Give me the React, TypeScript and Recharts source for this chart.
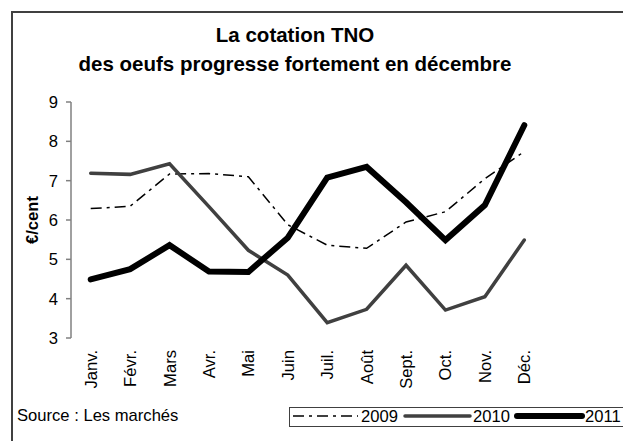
import React from 'react';
import { LineChart, Line, XAxis, YAxis } from 'recharts';

const months = ['Janv.', 'Févr.', 'Mars', 'Avr.', 'Mai', 'Juin', 'Juil.', 'Août', 'Sept.', 'Oct.', 'Nov.', 'Déc.'];
const s2009 = [6.29, 6.35, 7.17, 7.18, 7.1, 5.88, 5.36, 5.28, 5.95, 6.21, 7.05, 7.74];
const s2010 = [7.19, 7.16, 7.43, 6.34, 5.23, 4.6, 3.39, 3.73, 4.85, 3.71, 4.05, 5.49];
const s2011 = [4.49, 4.75, 5.36, 4.69, 4.68, 5.55, 7.08, 7.35, 6.45, 5.49, 6.38, 8.41];
const yTicks = [3, 4, 5, 6, 7, 8, 9];
const boundaryTicks = [0, 1, 2, 3, 4, 5, 6, 7, 8, 9, 10, 11, 12];

const titleLines = ['La cotation TNO', 'des oeufs progresse fortement en décembre'];
const yLabel = '€/cent';
const sourceText = 'Source : Les marchés';

const series = [
  { key: 'y2009', name: '2009', color: '#000000', width: 1.5, dash: '11 5 3 5', cap: 'butt' as const },
  { key: 'y2010', name: '2010', color: '#404040', width: 3.5, dash: undefined, cap: 'round' as const },
  { key: 'y2011', name: '2011', color: '#000000', width: 6, dash: undefined, cap: 'round' as const },
];

const data = months.map((m, i) => ({ month: m, y2009: s2009[i], y2010: s2010[i], y2011: s2011[i] }));

const FONT = '"Liberation Sans", Arial, sans-serif';
const AXIS = '#808080';
const FS = 16.6;

const MonthTick = (props: any) => {
  const { x, y, payload } = props;
  return (
    <g transform={`translate(${x},${y})`}>
      <text transform="rotate(-90)" x={-4} y={0} dy="0.36em" textAnchor="end" fontSize={FS} fontFamily={FONT} fill="#000">
        {payload.value}
      </text>
    </g>
  );
};

export default function App() {
  return (
    <div style={{ position: 'absolute', left: 0, top: 0, width: 623, height: 441, overflow: 'hidden', background: '#fff' }}>
      <div style={{ position: 'absolute', left: 11, top: 11, width: 640, height: 460, border: '2px solid #404040', boxSizing: 'border-box' }} />
      <div style={{ position: 'absolute', left: 0, top: 0 }}>
        <LineChart width={623} height={441} data={data} margin={{ top: 102, right: 79, bottom: 53, left: 40 }}>
          <XAxis
            xAxisId="b"
            type="number"
            domain={[0, 12]}
            ticks={boundaryTicks}
            tick={false}
            height={0}
            axisLine={{ stroke: AXIS, strokeWidth: 1.5 }}
            tickLine={{ stroke: AXIS, strokeWidth: 1.5 }}
            tickSize={6}
            allowDataOverflow
          />
          <XAxis
            xAxisId="cat"
            dataKey="month"
            type="category"
            scale="band"
            interval={0}
            height={50}
            axisLine={false}
            tickLine={false}
            tick={<MonthTick />}
          />
          <YAxis
            domain={[3, 9]}
            ticks={yTicks}
            width={31}
            interval={0}
            axisLine={{ stroke: AXIS, strokeWidth: 1.5 }}
            tickLine={{ stroke: AXIS, strokeWidth: 1.5 }}
            tickSize={5}
            tickMargin={8}
            tick={{ fontSize: FS, fontFamily: FONT, fill: '#000' }}
          />
          {series.map((s) => (
            <Line
              key={s.key}
              xAxisId="cat"
              dataKey={s.key}
              name={s.name}
              stroke={s.color}
              strokeWidth={s.width}
              strokeDasharray={s.dash}
              strokeLinecap={s.cap}
              dot={false}
              activeDot={false}
              isAnimationActive={false}
            />
          ))}
        </LineChart>
      </div>
      <svg width={623} height={441} style={{ position: 'absolute', left: 0, top: 0, pointerEvents: 'none' }}>
        <text x={295} y={42} textAnchor="middle" fontSize={20.5} fontWeight="bold" fontFamily={FONT} fill="#000">{titleLines[0]}</text>
        <text x={295} y={71} textAnchor="middle" fontSize={20.5} fontWeight="bold" fontFamily={FONT} fill="#000">{titleLines[1]}</text>
        <text transform="translate(38,220) rotate(-90)" textAnchor="middle" fontSize={FS} fontWeight="bold" fontFamily={FONT} fill="#000">{yLabel}</text>
        <text x={17} y={421} fontSize={FS} fontFamily={FONT} fill="#000">{sourceText}</text>
        <rect x={289.5} y={407.5} width={400} height={19} fill="none" stroke="#404040" strokeWidth={1} />
        {series.map((s, i) => {
          const x0 = 293 + i * 112;
          return (
            <g key={s.key}>
              <line x1={x0} x2={x0 + 65} y1={416} y2={416} stroke={s.color} strokeWidth={s.width} strokeDasharray={s.dash} strokeLinecap={s.cap} />
              <text x={x0 + 68} y={422} fontSize={FS} fontFamily={FONT} fill="#000">{s.name}</text>
            </g>
          );
        })}
      </svg>
    </div>
  );
}
